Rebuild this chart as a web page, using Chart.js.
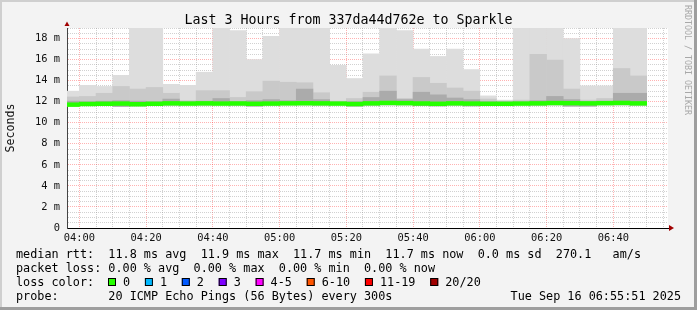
<!DOCTYPE html>
<html>
<head>
<meta charset="utf-8">
<script src="https://cdn.jsdelivr.net/npm/chart.js@4.4.1/dist/chart.umd.min.js"></script>
<style>
html, body { margin: 0; padding: 0; background: #f3f3f3; }
canvas { display: block; }
</style>
</head>
<body>
<canvas id="smokeChart" width="697" height="310"></canvas>
<script>
// 5 minute rounds, start time of each slot
var slots = ['03:55', '04:00', '04:05', '04:10', '04:15', '04:20', '04:25', '04:30', '04:35', '04:40',
             '04:45', '04:50', '04:55', '05:00', '05:05', '05:10', '05:15', '05:20', '05:25', '05:30',
             '05:35', '05:40', '05:45', '05:50', '05:55', '06:00', '06:05', '06:10', '06:15', '06:20',
             '06:25', '06:30', '06:35', '06:40', '06:45'];

// smoke (ms): top of the lightest band, mid band, inner band, bottom
var smokeMax = [13.0, 13.55, 13.45, 14.5, 19.0, 19.0, 13.65, 13.55, 14.8, 19.0,
                18.75, 16.0, 18.2, 19.0, 19.0, 19.0, 15.45, 14.2, 16.55, 19.0,
                18.75, 17.0, 16.3, 17.0, 15.05, 12.55, 12.15, 19.0, 19.0, 19.0,
                18.0, 13.5, 13.5, 19.0, 19.0];
var smokeMid = [12.45, 12.5, 12.8, 13.45, 13.2, 13.35, 12.8, 12.1, 13.05, 13.05,
                12.4, 12.95, 13.95, 13.85, 13.8, 12.85, 12.05, 12.3, 12.9, 14.45,
                12.3, 14.3, 13.75, 13.3, 13.0, 12.25, 12.05, 12.15, 16.5, 15.95,
                13.2, 12.15, 12.3, 15.15, 14.45];
var smokeInner = [12.05, 12.0, 12.05, 12.1, 12.05, 12.0, 12.25, 12.0, 12.05, 12.3,
                  12.0, 12.1, 12.2, 12.1, 13.2, 12.2, 11.95, 12.0, 12.4, 13.0,
                  12.2, 12.9, 12.65, 12.35, 12.2, 12.0, 11.98, 11.98, 12.1, 12.5,
                  12.2, 12.0, 12.05, 12.8, 12.8];
var smokeMin = [11.6, 11.65, 11.68, 11.55, 11.6, 11.68, 11.68, 11.7, 11.68, 11.7,
                11.68, 11.58, 11.68, 11.7, 11.7, 11.68, 11.7, 11.58, 11.68, 11.7,
                11.7, 11.62, 11.6, 11.68, 11.6, 11.62, 11.68, 11.7, 11.68, 11.7,
                11.58, 11.58, 11.7, 11.7, 11.68];
var medianRtt = [11.72, 11.78, 11.8, 11.82, 11.76, 11.8, 11.84, 11.82, 11.84, 11.82,
                 11.83, 11.8, 11.82, 11.84, 11.85, 11.84, 11.82, 11.78, 11.84, 11.88,
                 11.86, 11.83, 11.8, 11.84, 11.82, 11.8, 11.8, 11.82, 11.84, 11.87,
                 11.86, 11.84, 11.86, 11.88, 11.84];

var timeLabels = ['04:00', '04:20', '04:40', '05:00', '05:20', '05:40', '06:00', '06:20', '06:40'];
var lossLabels = ['0', '1', '2', '3', '4-5', '6-10', '11-19', '20/20'];
var lossColors = ['#26ff00', '#00b8ff', '#0059ff', '#7e00ff', '#ff00ff', '#ff5500', '#ff0000', '#a10000'];

var titleText = 'Last 3 Hours from 337da44d762e to Sparkle';
var statLines = [
    'median rtt:  11.8 ms avg  11.9 ms max  11.7 ms min  11.7 ms now  0.0 ms sd  270.1   am/s',
    'packet loss: 0.00 % avg  0.00 % max  0.00 % min  0.00 % now'
];
var probeText = 'probe:       20 ICMP Echo Pings (56 Bytes) every 300s';
var stampText = 'Tue Sep 16 06:55:51 2025';

var mono = '"DejaVu Sans Mono"';
var majorGrid = 'rgba(255,0,0,0.3)';
var minorGrid = 'rgba(140,140,140,0.4)';

function toMinutes(s) {
    var p = s.split(':');
    return (parseInt(p[0], 10) - 4) * 60 + parseInt(p[1], 10);
}
function fmtMinutes(v) {
    var h = 4 + Math.floor(v / 60), m = v % 60;
    return (h < 10 ? '0' : '') + h + ':' + (m < 10 ? '0' : '') + m;
}

function band(lo, hi) {
    return slots.map(function(s, i) {
        return { x: toMinutes(s) + 2.5, y: [lo[i], hi[i]] };
    });
}
var medLo = medianRtt.map(function(v) { return v - 0.18; });
var medHi = medianRtt.map(function(v) { return v + 0.18; });

var xTicks = [];
for (var t = 0; t <= 175; t += 5) xTicks.push({ value: t });

var rrdFrame = {
    id: 'rrdFrame',
    beforeDraw: function(chart) {
        var c = chart.ctx, a = chart.chartArea, w = chart.width, h = chart.height;
        c.save();
        c.fillStyle = '#f3f3f3';
        c.fillRect(0, 0, w, h);
        c.fillStyle = '#cfcfcf';
        c.fillRect(0, 0, w, 2);
        c.fillRect(0, 0, 2, h);
        c.fillStyle = '#9e9e9e';
        c.fillRect(0, h - 3, w, 3);
        c.fillRect(w - 3, 0, 3, h);
        c.fillStyle = '#ffffff';
        c.fillRect(a.left, a.top, a.right - a.left, a.bottom - a.top);
        c.restore();
    },
    afterDraw: function(chart) {
        var c = chart.ctx, a = chart.chartArea;
        c.save();
        c.fillStyle = '#000';
        c.textBaseline = 'alphabetic';
        c.font = '13.3px ' + mono;
        c.textAlign = 'center';
        c.fillText(titleText, chart.width / 2, 24);

        // watermark
        c.save();
        c.translate(687, 5);
        c.rotate(Math.PI / 2);
        c.font = '8.3px ' + mono;
        c.fillStyle = '#a8a8a8';
        c.textAlign = 'left';
        c.textBaseline = 'middle';
        c.fillText('RRDTOOL / TOBI OETIKER', 0, 0);
        c.restore();

        // axis arrows
        c.fillStyle = '#a10000';
        c.beginPath();
        c.moveTo(a.left - 2.5, a.top - 2);
        c.lineTo(a.left + 2.5, a.top - 2);
        c.lineTo(a.left, a.top - 6.5);
        c.closePath();
        c.fill();
        c.beginPath();
        c.moveTo(a.right + 1, a.bottom - 3);
        c.lineTo(a.right + 1, a.bottom + 3);
        c.lineTo(a.right + 6, a.bottom);
        c.closePath();
        c.fill();

        // legend text
        c.fillStyle = '#000';
        c.font = '11.8px ' + mono;
        c.textAlign = 'left';
        c.fillText(statLines[0], 16, 258);
        c.fillText(statLines[1], 16, 272);
        c.fillText('loss color:', 16, 286);
        var x = 108;
        for (var i = 0; i < lossLabels.length; i++) {
            c.fillStyle = lossColors[i];
            c.fillRect(x, 278, 8, 8);
            c.strokeStyle = '#000';
            c.lineWidth = 1;
            c.strokeRect(x + 0.5, 278.5, 7, 7);
            c.fillStyle = '#000';
            c.fillText(lossLabels[i], x + 15, 286);
            x = x + 15 + c.measureText(lossLabels[i]).width + 14.8;
        }
        c.fillText(probeText, 16, 300);
        c.textAlign = 'right';
        c.fillText(stampText, 681, 300);
        c.restore();
    }
};

var ctx = document.getElementById('smokeChart').getContext('2d');

new Chart(ctx, {
    type: 'bar',
    data: {
        datasets: [
            { label: 'median', data: band(medLo, medHi), backgroundColor: lossColors[0], order: 0 },
            { label: 'inner', data: band(smokeMin, smokeInner), backgroundColor: '#ababab', order: 1 },
            { label: 'mid', data: band(smokeMin, smokeMid), backgroundColor: '#c9c9c9', order: 2 },
            { label: 'max', data: band(smokeMin, smokeMax), backgroundColor: '#dddddd', order: 3 }
        ]
    },
    options: {
        responsive: false,
        animation: false,
        events: [],
        layout: { padding: { top: 28, right: 29, bottom: 0, left: 0 } },
        datasets: {
            bar: {
                grouped: false,
                barPercentage: 1,
                categoryPercentage: 1,
                borderWidth: 0,
                clip: 0
            }
        },
        plugins: {
            legend: { display: false },
            tooltip: { enabled: false },
            title: { display: false }
        },
        scales: {
            x: {
                type: 'linear',
                min: -3.7,
                max: 176.4,
                offset: false,
                z: 1,
                afterBuildTicks: function(s) { s.ticks = xTicks.slice(); },
                afterFit: function(s) { s.height = 82; },
                grid: {
                    offset: false,
                    drawTicks: false,
                    color: function(c) {
                        return c.tick && c.tick.value % 20 === 0 ? majorGrid : minorGrid;
                    }
                },
                border: { display: true, color: '#000', width: 1, dash: [1, 1] },
                ticks: {
                    autoSkip: false,
                    maxRotation: 0,
                    padding: 4,
                    color: '#111',
                    font: { family: mono, size: 10.4 },
                    callback: function(v) {
                        var lbl = fmtMinutes(v);
                        return timeLabels.indexOf(lbl) >= 0 ? lbl : '';
                    }
                }
            },
            y: {
                min: 0,
                max: 19,
                z: 1,
                afterFit: function(s) { s.width = 67; },
                grid: {
                    drawTicks: false,
                    color: function(c) {
                        if (!c.tick || c.tick.value === 0) return 'rgba(0,0,0,0)';
                        return c.tick.value % 2 === 0 ? majorGrid : minorGrid;
                    }
                },
                border: { display: true, color: '#444', width: 1, dash: [1, 1] },
                title: {
                    display: true,
                    text: 'Seconds',
                    color: '#111',
                    font: { family: mono, size: 11.6 },
                    padding: { top: 4, bottom: 0 }
                },
                ticks: {
                    stepSize: 0.5,
                    autoSkip: false,
                    padding: 7,
                    color: '#111',
                    font: { family: mono, size: 10.4 },
                    callback: function(v) {
                        if (v % 2 !== 0) return '';
                        return v === 0 ? '0' : v + ' m';
                    }
                }
            }
        }
    },
    plugins: [rrdFrame]
});
</script>
</body>
</html>
